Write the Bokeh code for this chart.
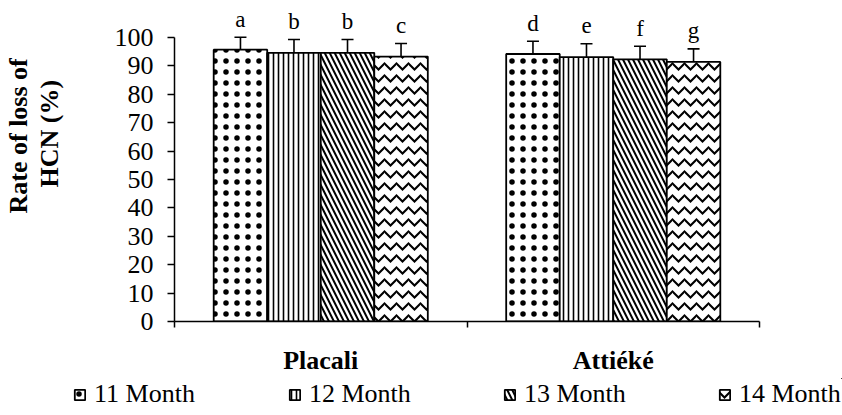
import math
from bokeh.plotting import figure
from bokeh.layouts import column
from bokeh.models import (Range1d, FixedTicker, Whisker, TeeHead, ColumnDataSource,
                          Legend, LegendItem, Title)
from bokeh.core.properties import value
from bokeh.embed import file_html
from bokeh.resources import INLINE

# ---- data ----
products = ["Placali", "Attiéké"]
months = ["11 Month", "12 Month", "13 Month", "14 Month"]
rate_11 = [95.7, 94.2]
rate_12 = [94.6, 93.1]
rate_13 = [94.6, 92.3]
rate_14 = [93.3, 91.4]
err_11 = [4.4, 4.5]
err_12 = [4.7, 4.7]
err_13 = [4.7, 4.6]
err_14 = [4.6, 4.6]
letters_11 = ["a", "d"]
letters_12 = ["b", "e"]
letters_13 = ["b", "f"]
letters_14 = ["c", "g"]
y_ticks = [0, 10, 20, 30, 40, 50, 60, 70, 80, 90, 100]
y_title_lines = ["Rate of loss of", "HCN (%)"]

rates = [rate_11, rate_12, rate_13, rate_14]
errs = [err_11, err_12, err_13, err_14]
lets = [letters_11, letters_12, letters_13, letters_14]

# ---- styles ----
FONT = "Liberation Serif"
hatches = [
    dict(hatch_pattern="dot", hatch_scale=11, hatch_weight=4),
    dict(hatch_pattern="vertical_line", hatch_scale=5, hatch_weight=1.6),
    dict(hatch_pattern="left_diagonal_line", hatch_scale=10, hatch_weight=2),
    dict(hatch_pattern="horizontal_wave", hatch_scale=12, hatch_weight=2),
]
bar_w = 0.183

p = figure(width=842, height=378, x_range=Range1d(0, 2), y_range=Range1d(0, 111.27),
           output_backend="svg", toolbar_location=None,
           min_border_left=174, min_border_right=83, min_border_top=5, min_border_bottom=57)
p.outline_line_color = None
p.grid.visible = False
p.background_fill_color = "white"

# legend strip (separate figure so the legend can sit below the axis)
lg = figure(width=842, height=37, x_range=Range1d(-11, -10), y_range=Range1d(-20, -10),
            output_backend="svg", toolbar_location=None, x_axis_type=None,
            y_axis_type=None, min_border=0)
lg.outline_line_color = None
lg.grid.visible = False
try:
    lg.frame_align = False
except Exception:
    pass

items = []
for j, m in enumerate(months):
    xs = [i + 0.5 + (j - 1.5) * bar_w for i in range(len(products))]
    top = rates[j]
    src = ColumnDataSource(dict(x=xs, top=top,
                                upper=[t + e for t, e in zip(top, errs[j])],
                                lower=[t - e for t, e in zip(top, errs[j])],
                                lab=lets[j]))
    style = dict(fill_color="white", line_color="black", line_width=1.8,
                 hatch_color="black", **hatches[j])
    p.vbar(x="x", top="top", width=bar_w, bottom=0, source=src, **style)
    lr = lg.vbar(x="x", top="top", width=bar_w, bottom=0, source=src, **style)
    items.append(LegendItem(label=m, renderers=[lr]))
    w = Whisker(base="x", upper="upper", lower="lower", source=src,
                line_color="black", line_width=1.6,
                upper_head=TeeHead(size=12, line_color="black", line_width=1.6),
                lower_head=TeeHead(size=12, line_color="black", line_width=1.6))
    p.add_layout(w)
    p.text(x="x", y="upper", text="lab", source=src, text_align="center",
           text_baseline="alphabetic", y_offset=-18,
           text_font=value(FONT), text_font_size="23px", text_color="black")

# y axis
ya = p.yaxis[0]
ya.ticker = FixedTicker(ticks=y_ticks)
ya.bounds = (0, 100)
ya.axis_line_color = "black"
ya.axis_line_width = 1.5
ya.major_tick_line_color = "black"
ya.major_tick_line_width = 1.5
ya.major_tick_out = 7
ya.major_tick_in = 0
ya.minor_tick_line_color = None
ya.major_label_standoff = 14
ya.major_label_text_font = FONT
ya.major_label_text_font_size = "26px"
ya.major_label_text_color = "black"

# x axis
xa = p.xaxis[0]
xa.ticker = FixedTicker(ticks=[0.5, 1.5], minor_ticks=[0, 1, 2])
xa.major_label_overrides = {0.5: products[0], 1.5: products[1]}
xa.axis_line_color = "black"
xa.axis_line_width = 1.5
xa.major_tick_line_color = None
xa.minor_tick_line_color = "black"
xa.minor_tick_line_width = 1.5
xa.minor_tick_out = 6
xa.minor_tick_in = 0
xa.major_label_standoff = 18
xa.major_label_text_font = FONT
xa.major_label_text_font_size = "26px"
xa.major_label_text_font_style = "bold"
xa.major_label_text_color = "black"

# y title: spacer, then the two lines (inner line first)
p.add_layout(Title(text=" ", standoff=15, text_font=FONT, text_font_size="26px"), "left")
p.add_layout(Title(text=y_title_lines[1], align="left", offset=134, standoff=0,
                   vertical_align="top", text_font=FONT, text_font_size="26px",
                   text_font_style="bold", text_color="black"), "left")
p.add_layout(Title(text=y_title_lines[0], align="left", offset=108, standoff=0,
                   vertical_align="top", text_font=FONT, text_font_size="26px",
                   text_font_style="bold", text_color="black"), "left")

legend = Legend(items=items, location=(73, 6), orientation="horizontal",
                glyph_width=13, glyph_height=13, label_standoff=8, label_width=194,
                label_height=20, spacing=0, padding=0, margin=0,
                border_line_color=None, background_fill_alpha=0,
                label_text_font=FONT, label_text_font_size="26px",
                label_text_color="black")
lg.add_layout(legend)

layout = column(p, lg, spacing=0)
open("out.html", "w").write(file_html(layout, INLINE))
